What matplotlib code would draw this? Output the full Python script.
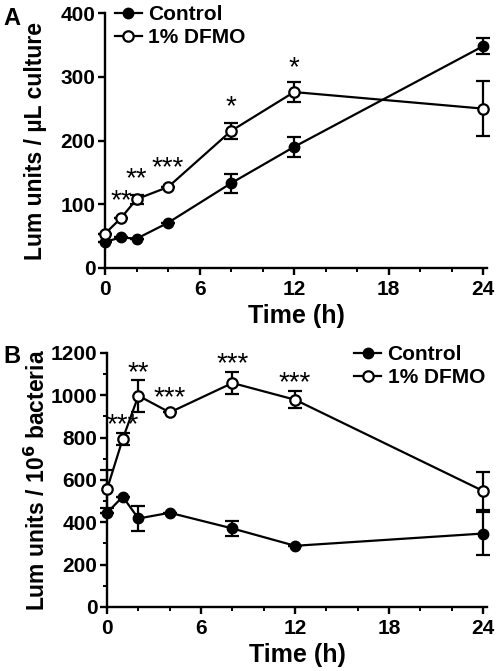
import matplotlib
matplotlib.use("Agg")
import matplotlib.pyplot as plt
from matplotlib.ticker import MultipleLocator

plt.rcParams['font.family'] = ['Liberation Sans', 'DejaVu Sans']
plt.rcParams['font.weight'] = 'bold'

time_h = [0, 1, 2, 4, 8, 12, 24]

# panel A: luminescence per uL culture
a_ctrl = [41, 48, 46, 71, 133, 190, 348]
a_ctrl_err = [0, 0, 0, 0, 15, 16, 13]
a_dfmo = [54, 78, 108, 127, 215, 276, 250]
a_dfmo_err = [0, 0, 7, 0, 12, 16, 43]
a_star_x = [1, 2, 4, 8, 12]
a_star_y = [104, 140, 156, 253, 313]
a_stars = ['**', '**', '***', '*', '*']

# panel B: luminescence per 10^6 bacteria
b_ctrl = [445, 521, 418, 445, 371, 289, 347]
b_ctrl_err = [0, 0, 57, 0, 35, 0, 103]
b_dfmo = [557, 794, 998, 919, 1058, 979, 548]
b_dfmo_err = [90, 30, 75, 0, 50, 40, 90]
b_star_x = [1, 2, 4, 8, 12]
b_star_y = [860, 1105, 987, 1145, 1058]
b_stars = ['***', '**', '***', '***', '***']

fig = plt.figure(figsize=(4.98, 6.71), dpi=100)
axA = fig.add_axes([0.211, 0.6006, 0.767, 0.380])
axB = fig.add_axes([0.215, 0.0954, 0.763, 0.3786])


def draw(ax, ctrl, ctrl_err, dfmo, dfmo_err, ymax, ystep, yminor, ylabel, legloc, sx, sy, stars):
    ax.errorbar(time_h, ctrl, yerr=ctrl_err, color='black', marker='o', ms=7.5,
                mfc='black', mec='black', lw=1.6, elinewidth=1.6, capsize=5,
                capthick=1.6, label='Control', clip_on=False, zorder=3)
    ax.errorbar(time_h, dfmo, yerr=dfmo_err, color='black', marker='o', ms=7.5,
                mfc='white', mec='black', mew=1.6, lw=1.6, elinewidth=1.6,
                capsize=5, capthick=1.6, label='1% DFMO', clip_on=False, zorder=3)
    for x, y, s in zip(sx, sy, stars):
        ax.text(x, y, s, ha='center', va='center', fontsize=20, fontweight='normal')
    ax.set_xlim(0, 24.25)
    ax.set_ylim(0, ymax)
    ax.xaxis.set_major_locator(MultipleLocator(6))
    ax.xaxis.set_minor_locator(MultipleLocator(2))
    ax.yaxis.set_major_locator(MultipleLocator(ystep))
    if yminor:
        ax.yaxis.set_minor_locator(MultipleLocator(yminor))
    for side in ['top', 'right']:
        ax.spines[side].set_visible(False)
    for side in ['left', 'bottom']:
        ax.spines[side].set_linewidth(1.7)
    ax.tick_params(which='major', length=5, width=1.7, labelsize=15, pad=2)
    ax.tick_params(axis='x', which='major', pad=4)
    ax.tick_params(which='minor', length=3, width=1.4)
    for lab in ax.get_xticklabels() + ax.get_yticklabels():
        lab.set_fontweight('bold')
    ax.set_xlabel('Time (h)', fontsize=18, fontweight='bold', labelpad=3)
    ax.set_ylabel(ylabel, fontsize=16.5, fontweight='bold')
    ax.yaxis.set_label_coords(-0.151, 0.5)
    handles, labels = ax.get_legend_handles_labels()
    handles = [h[0] for h in handles]
    leg = ax.legend(handles, labels, loc=legloc, frameon=False, fontsize=15,
                    handlelength=1.3, handletextpad=0.3, labelspacing=0.2,
                    borderaxespad=0.0, borderpad=0.1)
    for t in leg.get_texts():
        t.set_fontweight('bold')
    return leg


legA = draw(axA, a_ctrl, a_ctrl_err, a_dfmo, a_dfmo_err, 400, 100, None,
            'Lum units / µL culture', 'upper left', a_star_x, a_star_y, a_stars)
legA.set_bbox_to_anchor((0.02, 1.04), transform=axA.transAxes)
legB = draw(axB, b_ctrl, b_ctrl_err, b_dfmo, b_dfmo_err, 1200, 200, 100,
            'Lum units / 10$^\\mathbf{6}$ bacteria', 'upper right', b_star_x, b_star_y, b_stars)
legB.set_bbox_to_anchor((1.0, 1.04), transform=axB.transAxes)

fig.text(0.006, 0.963, 'A', fontsize=17, fontweight='bold')
fig.text(0.006, 0.459, 'B', fontsize=17, fontweight='bold')

fig.savefig('out.png', dpi=100)
